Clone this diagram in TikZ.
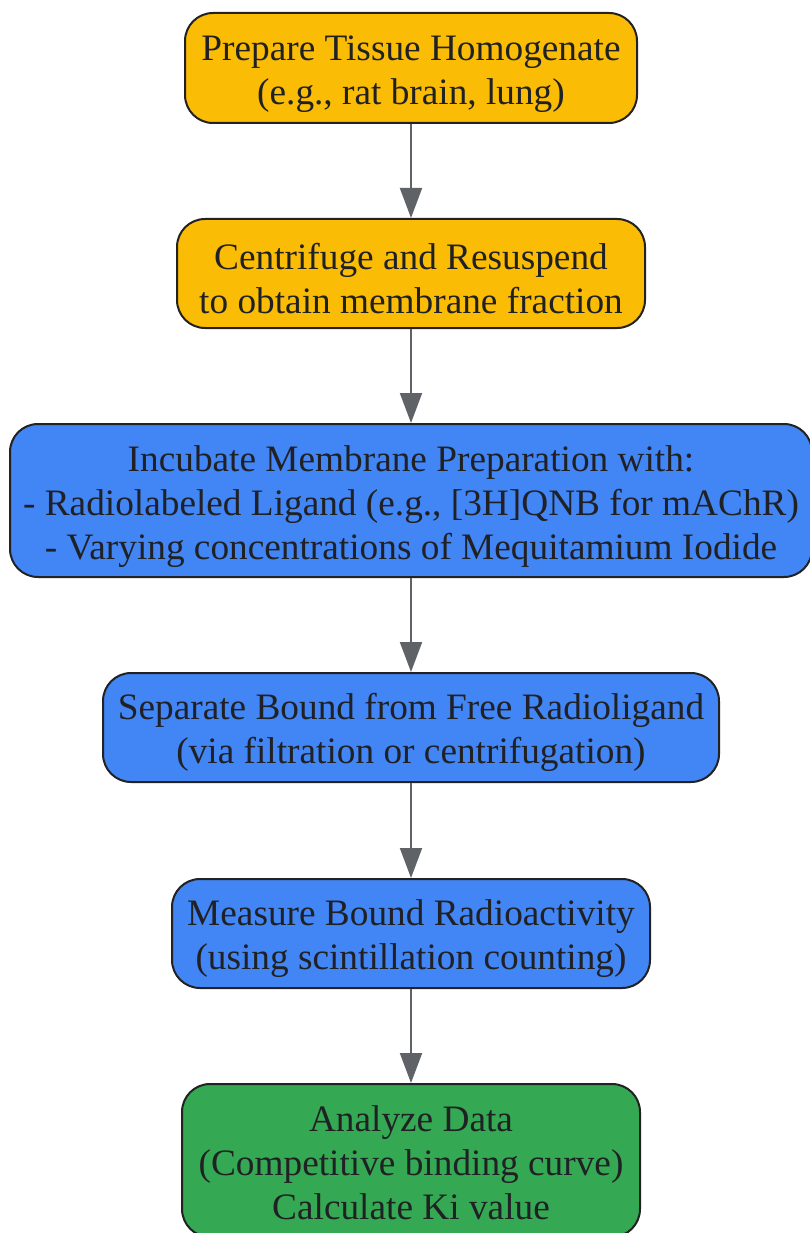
\documentclass[tikz,border=0pt]{standalone}
\usepackage{fontspec}
\setmainfont{Liberation Serif}
\usetikzlibrary{arrows.meta}
\definecolor{yel}{HTML}{FBBC05}
\definecolor{blu}{HTML}{4285F4}
\definecolor{grn}{HTML}{34A853}
\definecolor{edge}{HTML}{222222}
\definecolor{arr}{HTML}{5F6368}
\definecolor{txt}{HTML}{202124}
\newcommand{\topfix}[1]{\rule{0pt}{#1}}
\begin{document}
\begin{tikzpicture}[x=1pt,y=-1pt,
  box/.style={draw=edge, line width=2pt, rounded corners=28pt, align=center,
    text=txt, font=\fontsize{37.3}{44}\selectfont, inner sep=0pt},
  conn/.style={draw=arr, line width=2pt, -{Triangle[length=30pt,width=22pt]}}]
\useasboundingbox (0,0) rectangle (809,1233);
\node[box, fill=yel, minimum width=452pt, minimum height=110pt] (n1) at (411,68) {\topfix{37pt}Prepare Tissue Homogenate\\(e.g., rat brain, lung)};
\node[box, fill=yel, minimum width=468pt, minimum height=109pt] (n2) at (411,273.5) {\topfix{37pt}Centrifuge and Resuspend\\to obtain membrane fraction};
\node[box, fill=blu, minimum width=802pt, minimum height=153pt] (n3) at (411,500.5) {\topfix{38pt}Incubate Membrane Preparation with:\\- Radiolabeled Ligand (e.g., [3H]QNB for mAChR)\\- Varying concentrations of Mequitamium Iodide};
\node[box, fill=blu, minimum width=616pt, minimum height=109pt] (n4) at (411,727.5) {\topfix{37pt}Separate Bound from Free Radioligand\\(via filtration or centrifugation)};
\node[box, fill=blu, minimum width=478pt, minimum height=109pt] (n5) at (411,933.5) {\topfix{37pt}Measure Bound Radioactivity\\(using scintillation counting)};
\node[box, fill=grn, minimum width=458pt, minimum height=153pt] (n6) at (411,1160.5) {\topfix{30pt}Analyze Data\\(Competitive binding curve)\\Calculate Ki value};
\draw[conn] (n1) -- (n2);
\draw[conn] (n2) -- (n3);
\draw[conn] (n3) -- (n4);
\draw[conn] (n4) -- (n5);
\draw[conn] (n5) -- (n6);
\end{tikzpicture}
\end{document}
